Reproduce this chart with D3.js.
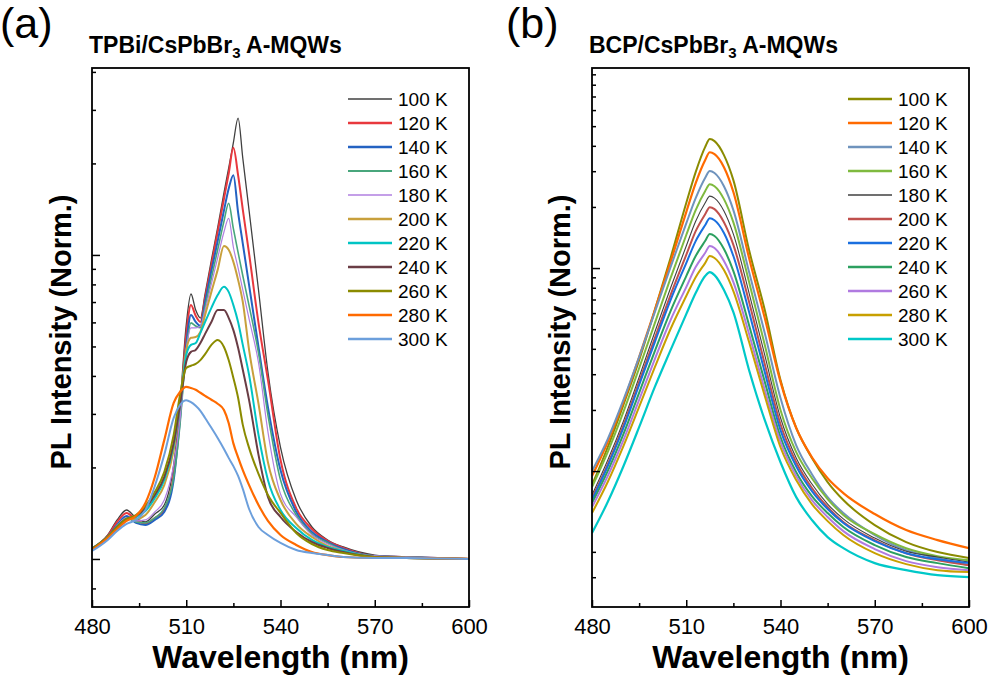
<!DOCTYPE html>
<html lang="en">
<head>
<meta charset="UTF-8">
<title>Temperature-dependent PL spectra</title>
<style>
  body { margin: 0; background: #fff; }
  svg { display: block; font-family: "Liberation Sans", Arial, sans-serif; }
  .frame { fill: none; stroke: #000; stroke-width: 1.8; }
  .axis path { display: none; }
  .axis line { stroke: #000; stroke-width: 1.5; }
  .axis text { font-size: 22px; fill: #000; }
  .spec { fill: none; stroke-linejoin: round; }
  .legend text { font-size: 19px; fill: #000; }
</style>
</head>
<body>
<svg id="chart" width="990" height="686"></svg>
<script src="https://d3js.org/d3.v7.min.js"></script>
<script>
// ---- data ----
const temps = ["100 K", "120 K", "140 K", "160 K", "180 K", "200 K", "220 K", "240 K", "260 K", "280 K", "300 K"];

// (a) TPBi/CsPbBr3, wavelengths in nm
const wlA = [480, 485, 488, 491, 494, 497, 500, 503, 506, 508, 510, 511.5, 513, 514.5, 516, 518, 520, 522, 523.5, 525, 526.5, 528, 530, 533, 536, 540, 545, 550, 555, 560, 570, 580, 600];
const tpbi100 = [1.087, 1.199, 1.344, 1.449, 1.364, 1.324, 1.406, 1.505, 2.04, 3.21, 5.89, 7.44, 6.59, 6.20, 7.44, 9.62, 12.3, 16.0, 19.3, 23.4, 28.2, 20.8, 14.0, 7.67, 4.12, 2.33, 1.563, 1.274, 1.155, 1.095, 1.03, 1.015, 1.0];
const tpbi120 = [1.079, 1.19, 1.324, 1.417, 1.344, 1.304, 1.364, 1.449, 1.89, 2.98, 5.46, 6.84, 6.31, 6.02, 7.22, 9.27, 11.9, 15.3, 18.5, 22.5, 18.3, 14.1, 10.1, 5.98, 3.88, 2.12, 1.47, 1.255, 1.146, 1.087, 1.023, 1.015, 1.0];
const tpbi140 = [1.079, 1.181, 1.294, 1.385, 1.314, 1.294, 1.344, 1.428, 1.82, 2.87, 5.06, 6.35, 6.02, 5.84, 7.0, 8.86, 11.1, 14.0, 16.5, 18.3, 13.8, 10.9, 7.96, 4.98, 3.16, 1.96, 1.428, 1.227, 1.137, 1.079, 1.023, 1.015, 1.0];
const tpbi160 = [1.079, 1.181, 1.284, 1.364, 1.324, 1.314, 1.364, 1.471, 1.85, 2.76, 4.87, 5.98, 5.84, 5.76, 6.75, 8.40, 10.4, 12.9, 14.8, 12.2, 10.2, 8.54, 6.81, 4.76, 2.98, 1.82, 1.395, 1.208, 1.129, 1.07, 1.023, 1.015, 1.0];
const tpbi180 = [1.079, 1.181, 1.284, 1.364, 1.334, 1.344, 1.428, 1.563, 2.04, 2.87, 4.87, 5.76, 5.76, 5.84, 6.59, 8.03, 9.78, 11.9, 13.2, 10.6, 9.06, 7.67, 6.16, 4.42, 2.62, 1.636, 1.374, 1.199, 1.12, 1.07, 1.023, 1.015, 1.0];
const tpbi200 = [1.079, 1.181, 1.274, 1.354, 1.354, 1.395, 1.54, 1.75, 2.28, 3.21, 4.87, 5.34, 5.37, 5.58, 6.35, 7.56, 8.93, 10.7, 10.4, 9.49, 8.28, 7.0, 4.87, 3.24, 2.08, 1.563, 1.304, 1.181, 1.104, 1.062, 1.015, 1.008, 1.0];
const tpbi220 = [1.079, 1.181, 1.274, 1.354, 1.374, 1.438, 1.587, 1.82, 2.37, 3.21, 4.69, 5.06, 5.13, 5.54, 6.02, 6.70, 7.38, 7.86, 7.56, 6.84, 6.02, 5.06, 4.03, 2.56, 1.82, 1.449, 1.265, 1.155, 1.095, 1.062, 1.015, 1.008, 1.0];
const tpbi240 = [1.079, 1.181, 1.274, 1.354, 1.385, 1.471, 1.624, 1.86, 2.41, 3.21, 4.45, 4.80, 4.87, 5.13, 5.50, 6.02, 6.59, 6.59, 6.21, 5.66, 4.95, 4.19, 3.33, 2.20, 1.60, 1.374, 1.227, 1.137, 1.087, 1.054, 1.015, 1.008, 1.0];
const tpbi260 = [1.079, 1.181, 1.274, 1.354, 1.395, 1.494, 1.66, 1.93, 2.56, 3.46, 4.25, 4.32, 4.38, 4.51, 4.72, 5.06, 5.25, 4.98, 4.51, 3.94, 3.39, 2.76, 2.32, 1.904, 1.624, 1.417, 1.218, 1.12, 1.07, 1.046, 1.015, 1.008, 1.0];
const tpbi280 = [1.07, 1.172, 1.255, 1.334, 1.385, 1.528, 1.86, 2.46, 3.26, 3.54, 3.68, 3.65, 3.60, 3.52, 3.44, 3.34, 3.24, 3.09, 2.80, 2.40, 2.16, 1.96, 1.75, 1.505, 1.334, 1.199, 1.112, 1.054, 1.03, 1.015, 1.008, 1.008, 1.0];
const tpbi300 = [1.062, 1.155, 1.236, 1.304, 1.344, 1.449, 1.738, 2.20, 2.91, 3.21, 3.33, 3.28, 3.19, 3.07, 2.91, 2.70, 2.50, 2.30, 2.15, 2.02, 1.875, 1.70, 1.46, 1.274, 1.199, 1.129, 1.07, 1.046, 1.03, 1.015, 1.008, 1.008, 1.0];

// (b) BCP/CsPbBr3
const wlB = [480, 485, 490, 495, 500, 505, 510, 513, 516, 517.5, 519, 522, 525, 530, 535, 540, 545, 550, 555, 560, 570, 580, 590, 600];
const bcp100 = [0.0853, 0.131, 0.212, 0.352, 0.621, 1.121, 2.09, 2.97, 3.94, 4.32, 4.22, 3.60, 2.71, 1.227, 0.621, 0.281, 0.163, 0.116, 0.0883, 0.072, 0.0542, 0.0447, 0.0399, 0.0373];
const bcp120 = [0.0944, 0.139, 0.219, 0.364, 0.621, 1.07, 1.887, 2.62, 3.40, 3.72, 3.64, 3.14, 2.37, 1.121, 0.567, 0.275, 0.163, 0.117, 0.0922, 0.0779, 0.0614, 0.0512, 0.0457, 0.0417];
const bcp140 = [0.0999, 0.1436, 0.224, 0.364, 0.607, 1.011, 1.66, 2.21, 2.78, 3.01, 2.94, 2.53, 1.93, 0.955, 0.478, 0.229, 0.134, 0.0965, 0.0744, 0.0621, 0.0484, 0.0408, 0.0373, 0.0344];
const bcp160 = [0.0834, 0.124, 0.1955, 0.321, 0.535, 0.892, 1.455, 1.93, 2.39, 2.59, 2.53, 2.185, 1.68, 0.853, 0.418, 0.200, 0.124, 0.0922, 0.0728, 0.0608, 0.0489, 0.0417, 0.0381, 0.0364];
const bcp180 = [0.0762, 0.113, 0.176, 0.290, 0.484, 0.797, 1.284, 1.70, 2.09, 2.26, 2.21, 1.91, 1.47, 0.753, 0.372, 0.183, 0.116, 0.0863, 0.0688, 0.0581, 0.0468, 0.0403, 0.0377, 0.0356];
const bcp200 = [0.0736, 0.108, 0.168, 0.275, 0.452, 0.736, 1.16, 1.52, 1.84, 1.995, 1.95, 1.68, 1.30, 0.680, 0.336, 0.170, 0.1105, 0.0825, 0.0665, 0.0561, 0.0457, 0.0394, 0.0364, 0.0344];
const bcp220 = [0.072, 0.1056, 0.163, 0.2655, 0.432, 0.696, 1.058, 1.358, 1.625, 1.76, 1.72, 1.488, 1.146, 0.607, 0.307, 0.159, 0.1056, 0.0797, 0.065, 0.0555, 0.0452, 0.0394, 0.0368, 0.0352];
const bcp240 = [0.0696, 0.0999, 0.152, 0.243, 0.390, 0.614, 0.913, 1.146, 1.358, 1.47, 1.439, 1.241, 0.966, 0.523, 0.275, 0.147, 0.0987, 0.0753, 0.0621, 0.053, 0.0432, 0.0377, 0.0352, 0.0332];
const bcp260 = [0.0665, 0.0944, 0.142, 0.224, 0.356, 0.554, 0.806, 1.011, 1.186, 1.284, 1.255, 1.083, 0.853, 0.473, 0.251, 0.139, 0.0944, 0.072, 0.0594, 0.0506, 0.0413, 0.036, 0.0336, 0.0325];
const bcp280 = [0.0621, 0.0883, 0.1327, 0.207, 0.325, 0.501, 0.728, 0.902, 1.058, 1.146, 1.121, 0.977, 0.770, 0.432, 0.2345, 0.131, 0.0903, 0.0688, 0.0567, 0.0484, 0.0394, 0.0348, 0.0325, 0.0318];
const bcp300 = [0.0495, 0.0704, 0.1056, 0.1645, 0.2596, 0.394, 0.593, 0.753, 0.913, 0.955, 0.923, 0.779, 0.607, 0.314, 0.178, 0.1105, 0.0744, 0.0574, 0.0473, 0.0417, 0.0352, 0.0325, 0.0307, 0.030];

const xMajor = [480, 510, 540, 570, 600];
const xMinor = [495, 525, 555, 585];
const yMajorA = [1, 10];
const yMinorA = [0.8, 2, 3, 4, 5, 6, 7, 8, 9, 20, 30, 40];
const yMajorB = [0.1, 1];
const yMinorB = [0.03, 0.04, 0.2, 0.3, 0.4, 0.5, 0.6, 0.7, 0.8, 0.9, 2, 3, 4, 5, 6, 7, 8, 9];

// ---- styles ----
const colorsA = ["#404040", "#e8383d", "#2462c2", "#48a67c", "#b07fe0", "#c8a03c", "#00c4c4", "#6a3d45", "#8b8b00", "#ff6a00", "#6c9fdc"];
const widthsA = [1.3, 2, 2, 1.6, 1.2, 2, 2, 2, 2, 2.2, 2];
const colorsB = ["#8b8b00", "#ff6a00", "#6f93bd", "#7fba3f", "#404040", "#c0504d", "#1a6fdf", "#2ca060", "#b07ae0", "#c8a000", "#00c8c8"];
const widthsB = [2, 2.2, 2, 2, 1.1, 2, 2, 2, 2, 2, 2.2];

const svg = d3.select("#chart");

function drawPanel(p) {
    const x = d3.scaleLinear().domain([480, 600]).range([p.left, p.right]);
    const y = d3.scaleLog().domain(p.yDomain).range([607, 68]);
    const g = svg.append("g");

    g.append("clipPath").attr("id", p.id + "-clip")
        .append("rect")
        .attr("x", p.left).attr("y", 68)
        .attr("width", p.right - p.left).attr("height", 607 - 68);

    const line = d3.line()
        .x((d, i) => x(p.wl[i]))
        .y(d => y(d))
        .curve(d3.curveMonotoneX);

    const plot = g.append("g").attr("clip-path", "url(#" + p.id + "-clip)");
    p.series.forEach((s, i) => {
        plot.append("path")
            .attr("class", "spec")
            .attr("d", line(s))
            .attr("stroke", p.colors[i])
            .attr("stroke-width", p.widths[i]);
    });

    // axes, ticks pointing inward
    g.append("g").attr("class", "axis")
        .attr("transform", "translate(0,607)")
        .call(d3.axisBottom(x).tickValues(xMajor).tickSize(-7).tickPadding(11).tickFormat(d3.format("d")));
    g.append("g").attr("class", "axis")
        .attr("transform", "translate(0,607)")
        .call(d3.axisBottom(x).tickValues(xMinor).tickSize(-4).tickFormat(""));
    g.append("g").attr("class", "axis")
        .attr("transform", "translate(" + p.left + ",0)")
        .call(d3.axisLeft(y).tickValues(p.yMajor).tickSize(-8).tickFormat(""));
    g.append("g").attr("class", "axis")
        .attr("transform", "translate(" + p.left + ",0)")
        .call(d3.axisLeft(y).tickValues(p.yMinor).tickSize(-4).tickFormat(""));

    g.append("rect").attr("class", "frame")
        .attr("x", p.left).attr("y", 68)
        .attr("width", p.right - p.left).attr("height", 607 - 68);

    // labels
    g.append("text")
        .attr("x", (p.left + p.right) / 2).attr("y", 668)
        .attr("text-anchor", "middle")
        .style("font-size", "32px").style("font-weight", "bold")
        .text("Wavelength (nm)");
    g.append("text")
        .attr("transform", "translate(" + p.yTitleX + ",332) rotate(-90)")
        .attr("text-anchor", "middle")
        .style("font-size", "29px").style("font-weight", "bold")
        .text("PL Intensity (Norm.)");
    g.append("text")
        .attr("x", p.tagX).attr("y", 38)
        .style("font-size", "43px")
        .text(p.tag);

    const title = g.append("text")
        .attr("x", p.left - 3).attr("y", 53)
        .style("font-size", "23px").style("font-weight", "bold");
    title.append("tspan").text(p.title[0]);
    title.append("tspan").attr("dy", 5).style("font-size", "15px").text("3");
    title.append("tspan").attr("dy", -5).text(p.title[1]);

    // legend
    const lg = g.append("g").attr("class", "legend");
    temps.forEach((t, i) => {
        const ly = 99 + i * 24;
        lg.append("line")
            .attr("x1", p.legX).attr("x2", p.legX + 44)
            .attr("y1", ly).attr("y2", ly)
            .attr("stroke", p.colors[i])
            .attr("stroke-width", p.widths[i] + 0.3);
        lg.append("text")
            .attr("x", p.legX + 50).attr("y", ly + 7)
            .text(t);
    });
}

drawPanel({
    id: "a", left: 92, right: 469, yDomain: [0.695, 41.2],
    wl: wlA,
    series: [tpbi100, tpbi120, tpbi140, tpbi160, tpbi180, tpbi200, tpbi220, tpbi240, tpbi260, tpbi280, tpbi300],
    colors: colorsA, widths: widthsA,
    yMajor: yMajorA, yMinor: yMinorA,
    yTitleX: 71, tag: "(a)", tagX: 0, title: ["TPBi/CsPbBr", " A-MQWs"], legX: 348
});

drawPanel({
    id: "b", left: 592, right: 969, yDomain: [0.0214, 9.67],
    wl: wlB,
    series: [bcp100, bcp120, bcp140, bcp160, bcp180, bcp200, bcp220, bcp240, bcp260, bcp280, bcp300],
    colors: colorsB, widths: widthsB,
    yMajor: yMajorB, yMinor: yMinorB,
    yTitleX: 570, tag: "(b)", tagX: 506, title: ["BCP/CsPbBr", " A-MQWs"], legX: 848
});
</script>
</body>
</html>
